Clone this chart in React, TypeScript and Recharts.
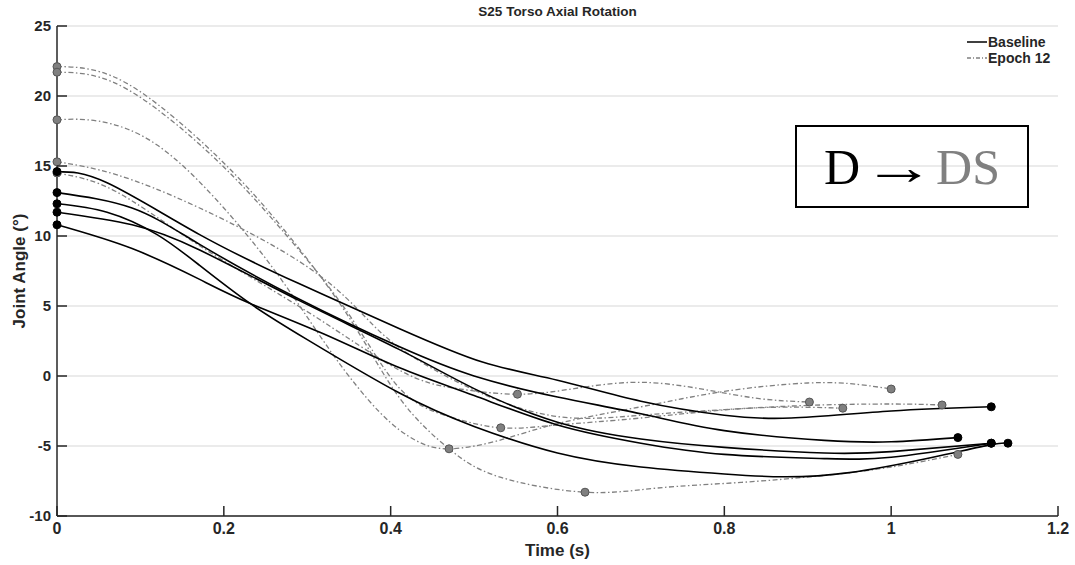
import React from 'react';
import { CartesianGrid, Legend, Line, LineChart, XAxis, YAxis } from 'recharts';

type Pt = [number, number];

// baseline trials: [time (s), angle (deg)]
const baseA: Pt[] = [[0, 14.6], [0.06, 13.8], [0.171, 10.1], [0.29, 6.6], [0.41, 3.4], [0.51, 1.0], [0.6, -0.3], [0.7, -1.8], [0.8, -2.8], [0.88, -3.0], [1.0, -2.5], [1.12, -2.2]];
const baseB: Pt[] = [[0, 13.1], [0.09, 12.0], [0.171, 9.4], [0.29, 5.5], [0.41, 2.1], [0.5, 0.0], [0.6, -1.5], [0.7, -2.7], [0.8, -3.9], [0.92, -4.6], [1.0, -4.7], [1.08, -4.4]];
const baseC: Pt[] = [[0, 11.7], [0.09, 10.8], [0.171, 9.0], [0.29, 5.4], [0.41, 1.9], [0.5, -0.9], [0.6, -3.3], [0.7, -4.5], [0.8, -5.1], [0.92, -5.5], [1.0, -5.4], [1.12, -4.8]];
const baseD: Pt[] = [[0, 10.8], [0.09, 9.1], [0.171, 6.9], [0.231, 5.2], [0.32, 3.0], [0.41, 0.6], [0.5, -1.4], [0.6, -3.5], [0.7, -4.8], [0.8, -5.6], [0.92, -5.9], [1.0, -5.8], [1.12, -4.8]];
const baseE: Pt[] = [[0, 12.3], [0.06, 11.7], [0.12, 10.1], [0.171, 7.9], [0.231, 5.2], [0.3, 2.6], [0.41, -1.2], [0.5, -3.6], [0.6, -5.5], [0.7, -6.5], [0.8, -7.0], [0.87, -7.2], [0.95, -6.9], [1.05, -5.8], [1.12, -4.9], [1.14, -4.8]];

// epoch 12 trials
const epochA: Pt[] = [[0, 22.1], [0.04, 21.9], [0.1, 20.3], [0.19, 15.8], [0.27, 10.6], [0.35, 4.2], [0.411, -1.6], [0.47, -5.2], [0.53, -7.2], [0.633, -8.3], [0.72, -8.0], [0.82, -7.6], [0.92, -7.1], [1.0, -6.5], [1.08, -5.6]];
const epochB: Pt[] = [[0, 21.7], [0.04, 21.5], [0.1, 19.9], [0.19, 15.5], [0.27, 10.4], [0.35, 4.4], [0.411, -0.9], [0.47, -2.9], [0.532, -3.7], [0.6, -3.5], [0.7, -3.0], [0.83, -2.3], [0.942, -2.3]];
const epochC: Pt[] = [[0, 18.3], [0.05, 18.2], [0.12, 16.5], [0.2, 12.0], [0.27, 6.8], [0.33, 1.6], [0.387, -2.6], [0.43, -4.6], [0.47, -5.2], [0.53, -4.6], [0.6, -3.4], [0.7, -2.2], [0.8, -1.1], [0.9, -0.5], [0.96, -0.6], [1.0, -0.93]];
const epochD: Pt[] = [[0, 15.3], [0.07, 14.4], [0.171, 12.0], [0.29, 8.2], [0.36, 4.8], [0.411, 2.0], [0.5, -1.0], [0.6, -2.9], [0.7, -2.8], [0.8, -2.4], [0.9, -2.1], [1.0, -2.0], [1.061, -2.07]];
const epochE: Pt[] = [[0, 14.5], [0.07, 13.2], [0.171, 9.3], [0.3, 4.6], [0.411, 0.4], [0.48, -0.9], [0.552, -1.3], [0.62, -0.9], [0.695, -0.45], [0.77, -0.9], [0.84, -1.6], [0.902, -1.86]];

// time of the marked minimum on each epoch trial (null = none marked)
const epochMinT = [0.633, 0.532, 0.47, null, 0.552];

const baselineTrials = [baseA, baseB, baseC, baseD, baseE];
const epochTrials = [epochA, epochB, epochC, epochD, epochE];

const xTicks = [0, 0.2, 0.4, 0.6, 0.8, 1, 1.2];
const yTicks = [-10, -5, 0, 5, 10, 15, 20, 25];

const TEXT = '#262626';
const GRAY = '#808080';
const FONT = 'Arial, "Liberation Sans", Helvetica, sans-serif';
const TICK_GAP = 6;

const toSeries = (pts: Pt[], minT: number | null = null) =>
  pts.map(([t, v], i) => ({ t, v, mark: i === 0 || i === pts.length - 1 || t === minT }));

const markerDot = (fill: string, stroke: string) => (props: any) => {
  const { cx, cy, payload, index } = props;
  if (!payload || !payload.mark) return <g key={`d${index}`} />;
  return <circle key={`d${index}`} cx={cx} cy={cy} r={4} fill={fill} stroke={stroke} strokeWidth={1} />;
};

function XTick({ x, y, payload }: any) {
  const y0 = y - TICK_GAP;
  return (
    <g>
      <line x1={x} x2={x} y1={y0} y2={y0 - 10} stroke={TEXT} strokeWidth={1.5} />
      <text x={x} y={y} dy="0.75em" textAnchor="middle" fontSize={16} fontWeight="bold" fill={TEXT} fontFamily={FONT}>
        {payload.value}
      </text>
    </g>
  );
}

function YTick({ x, y, payload }: any) {
  const x0 = x + TICK_GAP;
  return (
    <g>
      <line x1={x0} x2={x0 + 10} y1={y} y2={y} stroke={TEXT} strokeWidth={1.5} />
      <text x={x} y={y} dy="0.36em" textAnchor="end" fontSize={15} fontWeight="bold" fill={TEXT} fontFamily={FONT}>
        {payload.value}
      </text>
    </g>
  );
}

function YLabel({ viewBox }: any) {
  const cx = 19;
  const cy = viewBox.y + viewBox.height / 2;
  return (
    <text x={cx} y={cy} transform={`rotate(-90 ${cx} ${cy})`} dy="0.36em" textAnchor="middle"
      fontSize={17} fontWeight="bold" fill={TEXT} fontFamily={FONT}>
      Joint Angle (°)
    </text>
  );
}

function LegendBox() {
  const row = (label: string, color: string, dash?: string) => (
    <div style={{ display: 'flex', alignItems: 'center', height: 16 }}>
      <svg width={22} height={16}>
        <line x1={1} x2={21} y1={8} y2={8} stroke={color} strokeWidth={1.5} strokeDasharray={dash} />
      </svg>
      <span>{label}</span>
    </div>
  );
  return (
    <div style={{ fontFamily: FONT, fontWeight: 'bold', fontSize: 14, color: TEXT, lineHeight: '16px' }}>
      {row('Baseline', '#000')}
      {row('Epoch 12', GRAY, '4 2 1 2')}
    </div>
  );
}

export default function App() {
  return (
    <div style={{ position: 'absolute', left: 0, top: 0, width: 1075, height: 565, background: '#fff' }}>
      <div style={{ position: 'absolute', left: 57, top: 4, width: 1001, textAlign: 'center', fontFamily: FONT,
        fontWeight: 'bold', fontSize: 13.5, color: TEXT, lineHeight: '16px' }}>
        S25 Torso Axial Rotation
      </div>
      <LineChart width={1075} height={565} margin={{ top: 26, right: 17, left: 0, bottom: 0 }}>
        <CartesianGrid vertical={false} stroke="#e4e4e4" strokeWidth={1.5} />
        <XAxis type="number" dataKey="t" domain={[0, 1.2]} ticks={xTicks} height={49}
          tickSize={0} tickMargin={TICK_GAP} tickLine={false} tick={<XTick />}
          axisLine={{ stroke: TEXT, strokeWidth: 1.5 }}
          label={{ value: 'Time (s)', position: 'insideBottom', offset: 9, fontSize: 17, fontWeight: 'bold', fill: TEXT, fontFamily: FONT }} />
        <YAxis type="number" dataKey="v" domain={[-10, 25]} ticks={yTicks} width={57} allowDataOverflow
          tickSize={0} tickMargin={TICK_GAP} tickLine={false} tick={<YTick />}
          axisLine={{ stroke: TEXT, strokeWidth: 1.5 }} label={<YLabel />} />
        <Legend layout="horizontal" verticalAlign="middle" align="center" content={<LegendBox />}
          wrapperStyle={{ top: 34, left: 966, width: 100, height: 34 }} />
        {epochTrials.map((pts, i) => (
          <Line key={`e${i}`} data={toSeries(pts, epochMinT[i])} dataKey="v" type="natural"
            stroke={GRAY} strokeWidth={1.3} strokeDasharray="5 2.5 1.5 2.5"
            dot={markerDot(GRAY, '#555')} activeDot={false} isAnimationActive={false} legendType="none" />
        ))}
        {baselineTrials.map((pts, i) => (
          <Line key={`b${i}`} data={toSeries(pts)} dataKey="v" type="natural"
            stroke="#000" strokeWidth={1.6}
            dot={markerDot('#000', '#000')} activeDot={false} isAnimationActive={false} legendType="none" />
        ))}
      </LineChart>
      <div style={{ position: 'absolute', left: 795, top: 125, width: 234, height: 83, boxSizing: 'border-box',
        border: '2px solid #000', display: 'flex', alignItems: 'center', justifyContent: 'center',
        fontFamily: '"Liberation Serif", "Times New Roman", serif', fontSize: 50, lineHeight: '50px' }}>
        <span style={{ color: '#000' }}>D</span>
        <span style={{ color: '#000', display: 'inline-block', margin: '0 12px 0 14px', transform: 'scaleX(1.45)' }}>→</span>
        <span style={{ color: GRAY }}>DS</span>
      </div>
    </div>
  );
}
